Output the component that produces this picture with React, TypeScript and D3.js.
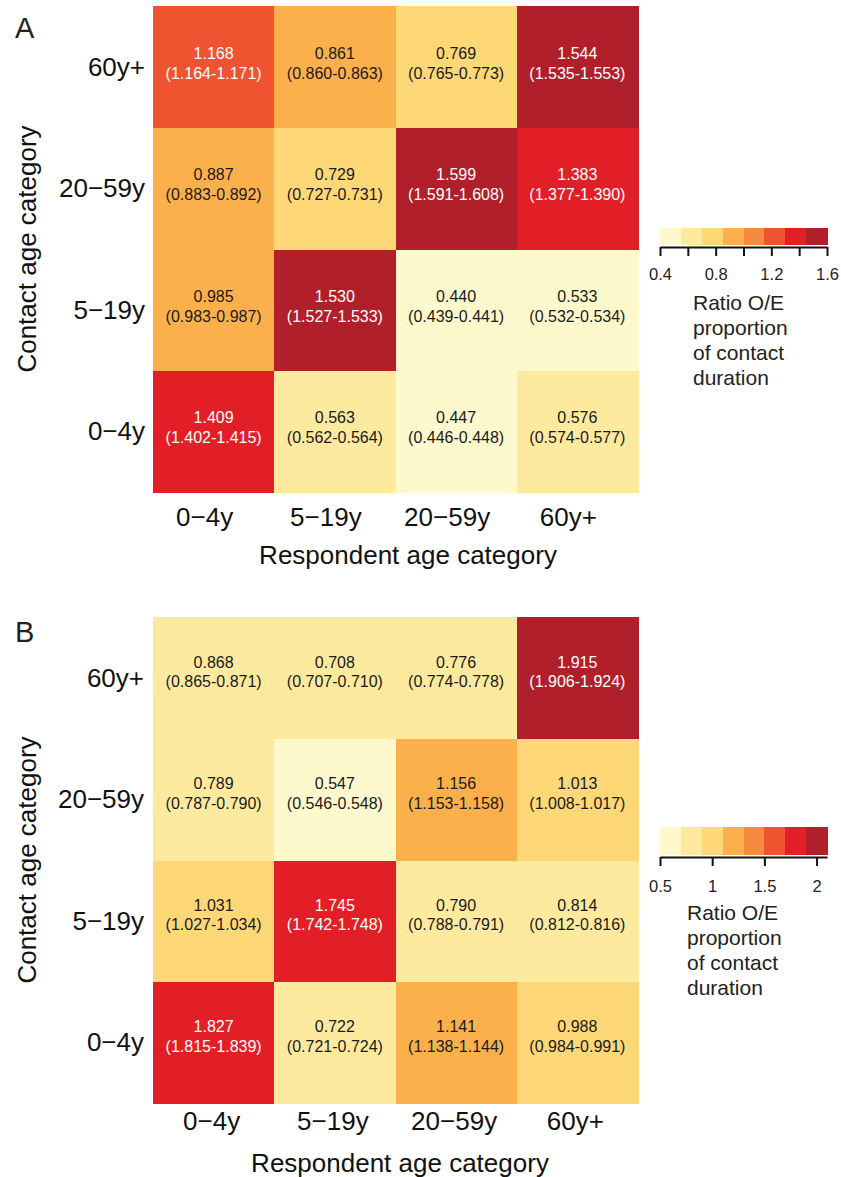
import React from "react";
import * as d3 from "d3";

const FONT = "'Liberation Sans', Arial, Helvetica, sans-serif";

// age groups, bottom-to-top on the y axis, left-to-right on the x axis
const ageGroups = ["0−4y", "5−19y", "20−59y", "60y+"];

// rows = contact age (0−4y first), columns = respondent age
const ratioA = [
  [1.409, 0.563, 0.447, 0.576],
  [0.985, 1.53, 0.44, 0.533],
  [0.887, 0.729, 1.599, 1.383],
  [1.168, 0.861, 0.769, 1.544],
];
const lowA = [
  [1.402, 0.562, 0.446, 0.574],
  [0.983, 1.527, 0.439, 0.532],
  [0.883, 0.727, 1.591, 1.377],
  [1.164, 0.86, 0.765, 1.535],
];
const highA = [
  [1.415, 0.564, 0.448, 0.577],
  [0.987, 1.533, 0.441, 0.534],
  [0.892, 0.731, 1.608, 1.39],
  [1.171, 0.863, 0.773, 1.553],
];

const ratioB = [
  [1.827, 0.722, 1.141, 0.988],
  [1.031, 1.745, 0.79, 0.814],
  [0.789, 0.547, 1.156, 1.013],
  [0.868, 0.708, 0.776, 1.915],
];
const lowB = [
  [1.815, 0.721, 1.138, 0.984],
  [1.027, 1.742, 0.788, 0.812],
  [0.787, 0.546, 1.153, 1.008],
  [0.865, 0.707, 0.774, 1.906],
];
const highB = [
  [1.839, 0.724, 1.144, 0.991],
  [1.034, 1.748, 0.791, 0.816],
  [0.79, 0.548, 1.158, 1.017],
  [0.871, 0.71, 0.778, 1.924],
];

const palette = [
  "#FEF8CD",
  "#FEEA9E",
  "#FED777",
  "#FCB04C",
  "#F68B3D",
  "#F0532F",
  "#E21F26",
  "#B01F2A",
];

const domainA = [0.4, 1.6];
const ticksA = [0.4, 0.6, 0.8, 1.0, 1.2, 1.4, 1.6];
const tickLabelsA = ["0.4", "", "0.8", "", "1.2", "", "1.6"];

const domainB = [0.5, 2.1];
const ticksB = [0.5, 1, 1.5, 2];
const tickLabelsB = ["0.5", "1", "1.5", "2"];

const legendTitle = ["Ratio O/E", "proportion", "of contact", "duration"];

function Panel({ letter, ratio, low, high, domain, ticks, tickLabels, top, opts }) {
  const heatLeft = 153;
  const heatRight = 638;
  const heatHeight = 486;

  const xScale = d3.scaleBand().domain(ageGroups).range([heatLeft, heatRight]);
  const yScale = d3
    .scaleBand()
    .domain([...ageGroups].reverse())
    .range([top, top + heatHeight]);

  const color = d3.scaleQuantize().domain(domain).range(palette);
  const fmt = d3.format(".3f");

  // legend
  const legScale = d3.scaleLinear().domain(domain).range([660, 827]);
  const step = (domain[1] - domain[0]) / palette.length;

  const axisRef = (el) => {
    if (!el) return;
    const ax = d3
      .axisBottom(legScale)
      .tickValues(ticks)
      .tickFormat((d, i) => tickLabels[i])
      .tickSize(9)
      .tickSizeOuter(0);
    const g = d3.select(el).call(ax);
    g.attr("font-family", FONT).attr("font-size", 16.5);
    g.select(".domain").attr("stroke", "#111").attr("stroke-width", 2);
    g.selectAll(".tick line").attr("stroke", "#111").attr("stroke-width", 2);
    g.selectAll(".tick text")
      .attr("fill", "#222")
      .attr("y", opts.tickTextY)
      .attr("dy", "0.71em");
  };

  const cells = [];
  ratio.forEach((row, ri) => {
    row.forEach((v, ci) => {
      cells.push({ contact: ageGroups[ri], resp: ageGroups[ci], v, lo: low[ri][ci], hi: high[ri][ci] });
    });
  });

  return (
    <g>
      <text x={15} y={opts.letterY} fontSize={29} fill="#222" fontFamily={FONT}>
        {letter}
      </text>
      {cells.map((d, i) => {
        const x = xScale(d.resp);
        const y = yScale(d.contact);
        const fill = color(d.v);
        const dark = palette.indexOf(fill) >= 5;
        const cx = x + xScale.bandwidth() / 2;
        const cy = y + yScale.bandwidth() / 2;
        return (
          <g key={i}>
            <rect
              x={x}
              y={y}
              width={xScale.bandwidth() + 0.5}
              height={yScale.bandwidth() + 0.5}
              fill={fill}
              shapeRendering="crispEdges"
            />
            <text
              x={cx}
              textAnchor="middle"
              fontSize={16}
              fontFamily={FONT}
              fill={dark ? "#ffffff" : "#1a1a1a"}
            >
              <tspan x={cx} y={cy + opts.line1}>
                {fmt(d.v)}
              </tspan>
              <tspan x={cx} y={cy + opts.line2}>
                {`(${fmt(d.lo)}-${fmt(d.hi)})`}
              </tspan>
            </text>
          </g>
        );
      })}
      {ageGroups.map((a) => (
        <text
          key={"y" + a}
          x={opts.yLabelX}
          y={yScale(a) + yScale.bandwidth() / 2 + 9}
          textAnchor="end"
          fontSize={26}
          fontFamily={FONT}
          fill="#111"
        >
          {a}
        </text>
      ))}
      {ageGroups.map((a) => (
        <text
          key={"x" + a}
          x={xScale(a) + xScale.bandwidth() / 2 + opts.xLabelShift}
          y={top + heatHeight + opts.xLabelGap}
          textAnchor="middle"
          fontSize={26}
          fontFamily={FONT}
          fill="#111"
        >
          {a}
        </text>
      ))}
      <text
        x={opts.xTitleX}
        y={top + heatHeight + opts.xTitleGap}
        textAnchor="middle"
        fontSize={26}
        fontFamily={FONT}
        fill="#111"
      >
        Respondent age category
      </text>
      <text
        transform={`translate(36, ${top + heatHeight / 2}) rotate(-90)`}
        textAnchor="middle"
        fontSize={26}
        fontFamily={FONT}
        fill="#111"
      >
        Contact age category
      </text>

      {palette.map((c, i) => (
        <rect
          key={"leg" + i}
          x={legScale(domain[0] + i * step)}
          y={opts.legTop}
          width={legScale(domain[0] + step) - legScale(domain[0]) + 0.5}
          height={opts.legHeight}
          fill={c}
          shapeRendering="crispEdges"
        />
      ))}
      <g ref={axisRef} transform={`translate(0, ${opts.legTop + opts.legHeight + 2})`} />
      <text fontSize={21} fontFamily={FONT} fill="#222">
        {legendTitle.map((t, i) => (
          <tspan key={t} x={opts.legTitleX} y={opts.legTitleY + i * 25}>
            {t}
          </tspan>
        ))}
      </text>
    </g>
  );
}

export default function App() {
  return (
    <svg
      width={841}
      height={1177}
      style={{ position: "absolute", left: 0, top: 0, background: "#fff" }}
    >
      <rect width={841} height={1177} fill="#fff" />
      <Panel
        letter="A"
        ratio={ratioA}
        low={lowA}
        high={highA}
        domain={domainA}
        ticks={ticksA}
        tickLabels={tickLabelsA}
        top={6}
        opts={{
          letterY: 38,
          line1: -8,
          line2: 12,
          yLabelX: 145,
          xLabelGap: 34,
          xLabelShift: -9,
          xTitleGap: 72,
          xTitleX: 408,
          legTop: 228,
          legHeight: 17,
          tickTextY: 21,
          legTitleX: 693,
          legTitleY: 310,
        }}
      />
      <Panel
        letter="B"
        ratio={ratioB}
        low={lowB}
        high={highB}
        domain={domainB}
        ticks={ticksB}
        tickLabels={tickLabelsB}
        top={617}
        opts={{
          letterY: 642,
          line1: -10,
          line2: 9.5,
          yLabelX: 144,
          xLabelGap: 27,
          xLabelShift: -2,
          xTitleGap: 69,
          xTitleX: 400,
          legTop: 827,
          legHeight: 28,
          tickTextY: 23,
          legTitleX: 687,
          legTitleY: 920,
        }}
      />
    </svg>
  );
}
